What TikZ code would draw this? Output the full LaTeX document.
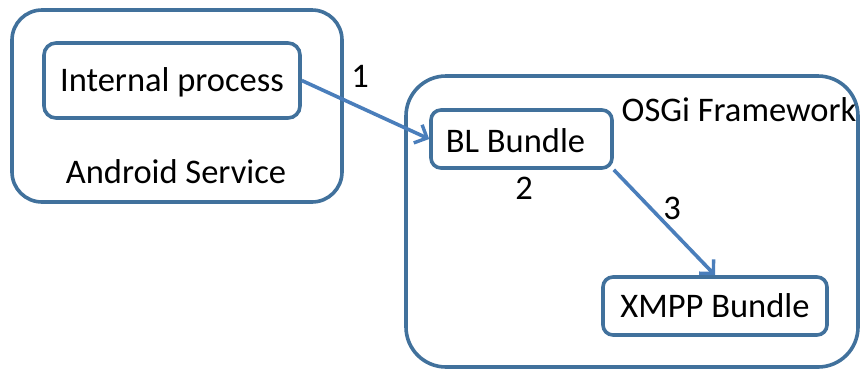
\documentclass[tikz,border=0pt]{standalone}
\usepackage{fontspec}
\setmainfont{Carlito}
\usetikzlibrary{arrows.meta}
\definecolor{boxblue}{HTML}{41719C}
\definecolor{arrowblue}{HTML}{4A7EBB}
\begin{document}
\begin{tikzpicture}[x=1pt,y=-1pt,
  box/.style={draw=boxblue, line width=3.6pt, fill=white, inner sep=0pt},
  lbl/.style={font=\fontsize{34.5}{38}\selectfont, inner sep=0pt},
  conn/.style={draw=arrowblue, line width=3.6pt, -{Straight Barb[length=10pt,width=20pt,line width=3.4pt]}}]
\useasboundingbox (0,0) rectangle (861,368);
\node[box, rounded corners=30pt, minimum width=330pt, minimum height=192pt] (android) at (177,106) {};
\node[box, rounded corners=40pt, minimum width=452pt, minimum height=291pt] (osgi) at (632,221.5) {};
\node[box, rounded corners=12pt, minimum width=256pt, minimum height=75pt] (internal) at (172,80.5) {};
\node[box, rounded corners=10pt, minimum width=181pt, minimum height=58pt] (bl) at (521.5,139) {};
\node[box, rounded corners=10pt, minimum width=224pt, minimum height=58pt] (xmpp) at (715,306) {};
\node[lbl] (tinternal) at (172,82) {Internal process};
\node[lbl] (tandroid) at (176,172) {Android Service};
\node[lbl] (tosgi) at (739,110) {OSGi Framework};
\node[lbl] (tbl) at (515.5,141) {BL Bundle};
\node[lbl] (txmpp) at (715,306) {XMPP Bundle};
\node[lbl] (n1) at (360,76) {1};
\node[lbl] (n2) at (524,188) {2};
\node[lbl] (n3) at (672,208) {3};
\draw[conn] (internal.east) -- (bl.west);
\draw[conn] (bl.south east) -- (xmpp.north);
\end{tikzpicture}
\end{document}
